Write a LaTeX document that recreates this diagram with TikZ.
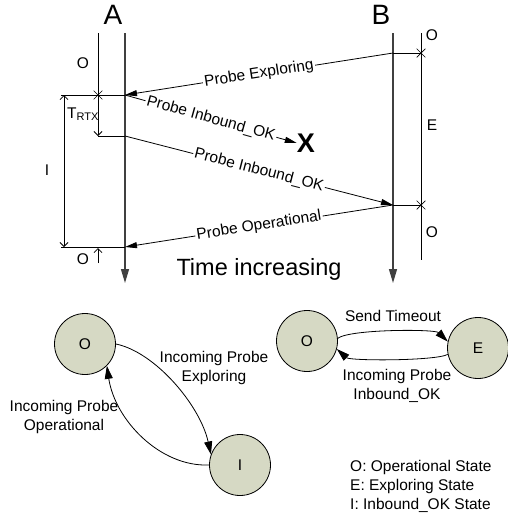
\documentclass[tikz,border=0pt]{standalone}
\usepackage{fontspec}
\setmainfont{Liberation Sans}
\usetikzlibrary{arrows.meta,shapes.misc}
\definecolor{statefill}{RGB}{214,217,196}

\begin{document}
\begin{tikzpicture}[x=1pt,y=-1pt,
  lbl/.style={inner sep=0pt, font=\fontsize{15.5}{19}\selectfont},
  timeline/.style={draw=black!75, line width=1.3pt, -{Triangle[length=14pt,width=8pt]}},
  guide/.style={draw=black, line width=0.8pt},
  msg/.style={draw=black, line width=0.8pt, -{Triangle[length=12pt,width=6pt]}},
  msglabel/.style={lbl, sloped, midway, fill=white, inner sep=1.5pt},
  dim/.style={guide, {Straight Barb[length=4pt,width=8pt]}-{Straight Barb[length=4pt,width=8pt]}},
  dimend/.style={guide, -{Straight Barb[length=4pt,width=8pt]}},
  tick/.style={cross out, draw=black, line width=0.7pt, minimum size=8pt, inner sep=0pt},
  state/.style={circle, draw=black, line width=0.8pt, fill=statefill, minimum size=61pt, inner sep=0pt, font=\fontsize{15.5}{19}\selectfont},
  trans/.style={draw=black, line width=0.8pt, -{Triangle[length=13pt,width=8pt]}},
]
\useasboundingbox (0,0) rectangle (508,520);

% ---------- time lines ----------
\coordinate (a0) at (125,33);
\coordinate (a1) at (125,283);
\coordinate (b0) at (393,33);
\coordinate (b1) at (393,283);
\draw[timeline] (a0) -- (a1);
\draw[timeline] (b0) -- (b1);
\node[font=\fontsize{28}{30}\selectfont, inner sep=0pt] (la) at (113,15) {A};
\node[font=\fontsize{28}{30}\selectfont, inner sep=0pt] (lb) at (381,15) {B};

% ---------- node A state bar ----------
\coordinate (aexp) at (125,95);
\coordinate (asend) at (125,136);
\coordinate (aop) at (125,247);
\coordinate (ga0) at (98,33);
\node[tick] (ta) at (98,95) {};
\coordinate (trtx) at (98,136);
\coordinate (h1) at (61,95);
\coordinate (h2) at (61,247);
\coordinate (ia) at (64,95);
\coordinate (ib) at (64,247);
\coordinate (ob0) at (98,263);
\coordinate (ob1) at (98,248);

\draw[guide] (ga0) -- (ta.center);
\draw[dimend] (ta.center) -- (trtx);
\draw[guide] (trtx) -- (asend);
\draw[guide] (h1) -- (aexp);
\draw[guide] (h2) -- (aop);
\draw[dim] (ia) -- (ib);
\draw[dimend] (ob0) -- (ob1);

\node[lbl] (oa1) at (83,63) {O};
\node[lbl, anchor=base west] (tr) at (67,118) {T\raisebox{-2pt}{\fontsize{11}{11}\selectfont RTX}};
\node[lbl] (il) at (47,170) {I};
\node[lbl] (oa2) at (83,259) {O};

% ---------- node B state bar ----------
\coordinate (gb0) at (421,33);
\coordinate (gb1) at (421,260);
\coordinate (bexp) at (393,53);
\coordinate (bop) at (393,205);
\node[tick] (tb1) at (421,53) {};
\node[tick] (tb2) at (421,205) {};
\draw[guide] (gb0) -- (gb1);
\draw[guide] (bexp) -- (tb1.center);
\draw[guide] (bop) -- (tb2.center);

\node[lbl] (ob1l) at (432,35) {O};
\node[lbl] (ebl) at (432,125) {E};
\node[lbl] (ob2l) at (432,232) {O};

% ---------- probes ----------
\node[font=\bfseries\fontsize{27}{30}\selectfont, inner sep=0pt] (lost) at (306,143) {X};
\draw[msg] (bexp) -- node[msglabel]{Probe Exploring} (aexp);
\draw[msg] (aexp) -- node[msglabel]{Probe Inbound\_OK} (lost.west);
\draw[msg] (asend) -- node[msglabel]{Probe Inbound\_OK} (bop);
\draw[msg] (bop) -- node[msglabel]{Probe Operational} (aop);

\node[font=\fontsize{23.5}{26}\selectfont, inner sep=0pt] (time) at (259,269) {Time increasing};

% ---------- state machine of A ----------
\node[state] (so) at (85,344) {O};
\node[state] (si) at (240,465) {I};
\draw[trans] (so.east) .. controls (155,352) and (200,405) .. (si.160);
\draw[trans] (si.west) .. controls (160,467) and (115,420) .. (so.-45);
\node[lbl, align=center] (l1) at (214,368) {Incoming Probe\\Exploring};
\node[lbl, align=center] (l2) at (64,417) {Incoming Probe\\Operational};

% ---------- state machine of B ----------
\node[state] (so2) at (307,341) {O};
\node[state] (se) at (478,348) {E};
\draw[trans] (so2.5) .. controls (350,329) and (435,329) .. (se.168);
\draw[trans] (se.192) .. controls (435,361) and (350,361) .. (so2.-15);
\node[lbl] (l3) at (393,316) {Send Timeout};
\node[lbl, align=center] (l4) at (397,386) {Incoming Probe\\Inbound\_OK};

% ---------- legend ----------
\node[lbl, align=left, anchor=west] (legend) at (350,486) {O: Operational State\\E: Exploring State\\I: Inbound\_OK State};
\end{tikzpicture}
\end{document}
